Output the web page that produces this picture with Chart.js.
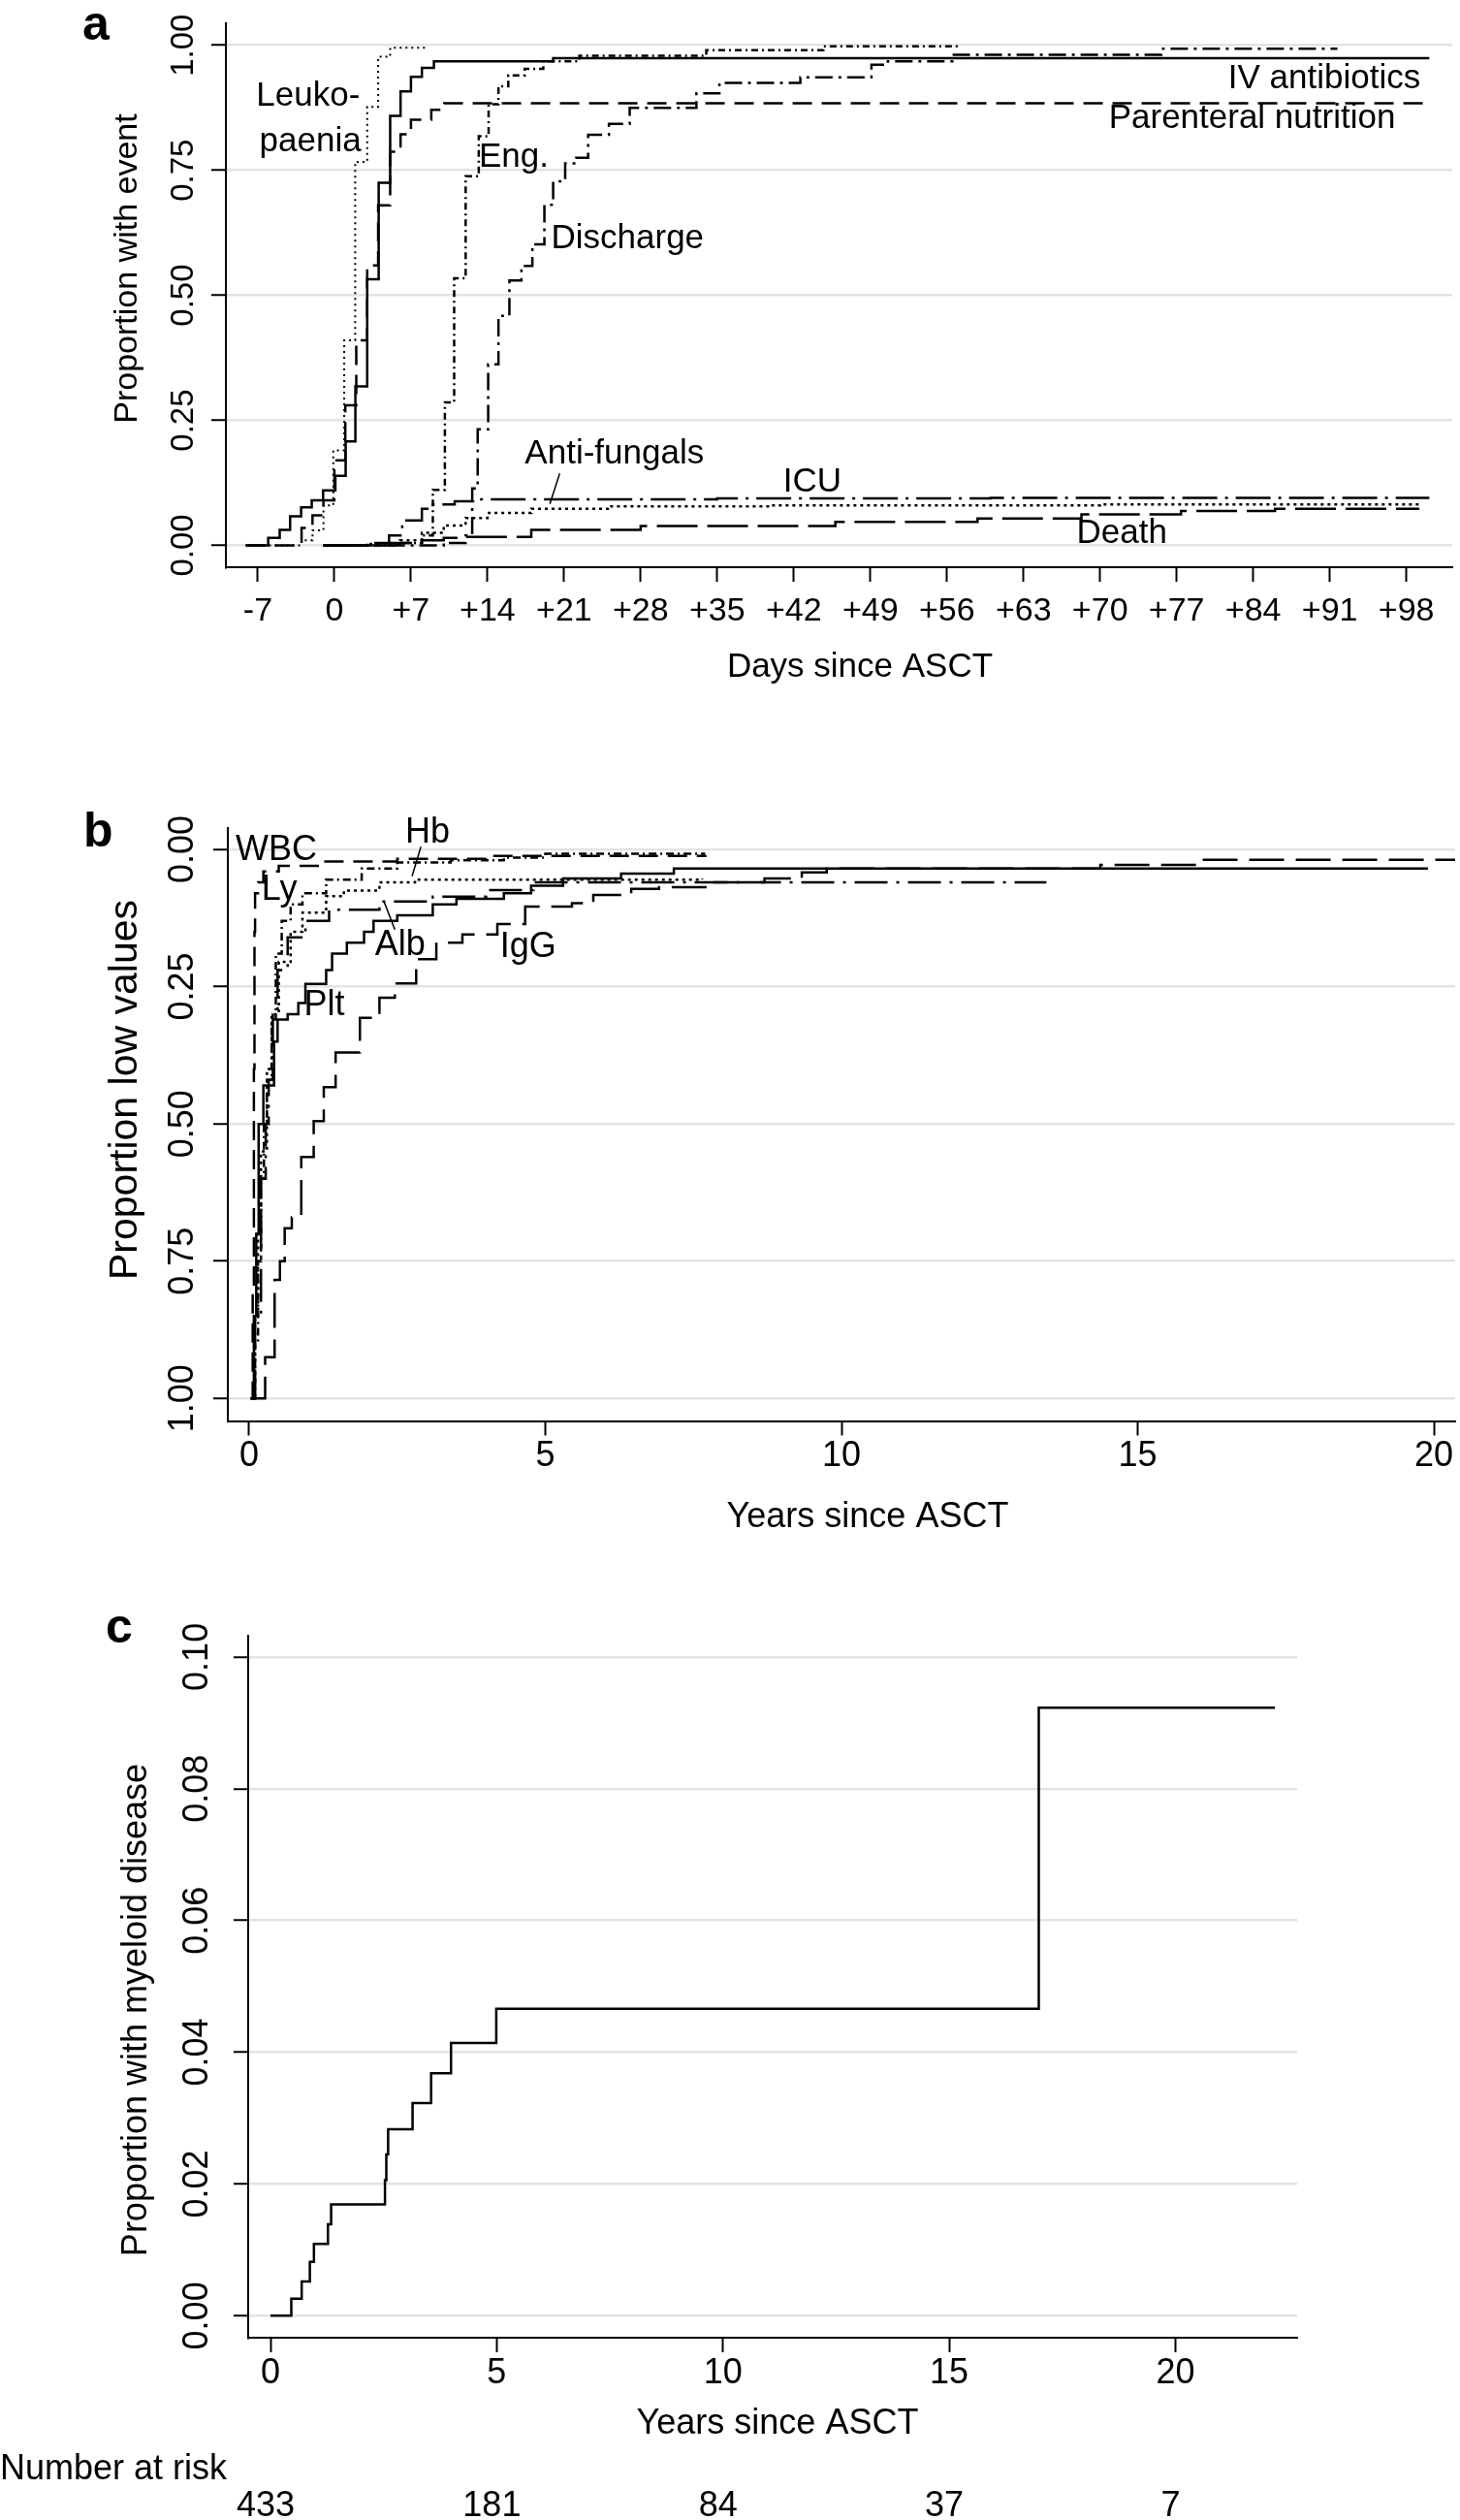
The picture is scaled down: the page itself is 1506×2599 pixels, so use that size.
<!DOCTYPE html>
<html>
<head>
<meta charset="utf-8">
<title>ASCT event curves</title>
<script src="https://cdn.jsdelivr.net/npm/chart.js@4.4.1/dist/chart.umd.min.js"></script>
<style>
  body { margin: 0; background: #fff; width: 1506px; height: 2599px; position: relative; overflow: hidden; }
  canvas { position: absolute; left: 0; }
  #chartA { top: 0; }
  #chartB { top: 800px; }
  #chartC { top: 1640px; }
</style>
</head>
<body>
<canvas id="chartA" width="1506" height="710" style="width:1506px;height:710px"></canvas>
<canvas id="chartB" width="1506" height="787" style="width:1506px;height:787px"></canvas>
<canvas id="chartC" width="1506" height="959" style="width:1506px;height:959px"></canvas>
<script>
const FONT = "'Liberation Sans', Arial, Helvetica, sans-serif";

// ---- panel a: days since ASCT ----
const dayTicks = [-7, 0, 7, 14, 21, 28, 35, 42, 49, 56, 63, 70, 77, 84, 91, 98];
const eventTicks = [0, 0.25, 0.5, 0.75, 1];

const ivDays = [-8.1, -6.05, -5, -4.05, -3.04, -2.07, -1.03, 0.09, 1.03, 1.92, 3.0, 4.05, 5.1, 6.05, 7.0, 8.0, 9.1, 20, 100.1];
const ivVals = [0, 0.015, 0.031, 0.058, 0.076, 0.09, 0.11, 0.139, 0.208, 0.318, 0.532, 0.725, 0.859, 0.908, 0.937, 0.955, 0.968, 0.974, 0.974];

const pnDays = [-8.1, -3, -2, -1, 0, 1, 2, 3, 4, 5.1, 6.05, 7.0, 8.86, 10.04, 100.1];
const pnVals = [0, 0.035, 0.06, 0.09, 0.17, 0.28, 0.41, 0.56, 0.68, 0.787, 0.822, 0.851, 0.871, 0.884, 0.886];

const leukoDays = [-8.1, -3, -2, -1, -0.1, 0.9, 1.9, 3.0, 4.0, 5.1, 8.6];
const leukoVals = [0, 0.01, 0.03, 0.08, 0.19, 0.41, 0.767, 0.877, 0.977, 0.995, 0.995];

const engDays = [-1, 6, 8, 9.0, 10.1, 10.95, 12.0, 13.2, 14.1, 15.0, 15.9, 17.4, 19.1, 22.4, 34, 44.7, 57.3];
const engVals = [0, 0.005, 0.02, 0.111, 0.286, 0.534, 0.738, 0.818, 0.882, 0.918, 0.94, 0.953, 0.968, 0.979, 0.99, 0.998, 0.998];

const dischDays = [-1, 10, 12, 12.6, 13.1, 14.06, 15.0, 16.0, 17.1, 18.1, 19.2, 20.0, 21.1, 22.1, 23.2, 25.1, 27.0, 33.1, 35.2, 42.6, 49.1, 50.6, 56.5, 75.6, 91.7];
const dischVals = [0, 0.005, 0.02, 0.114, 0.232, 0.362, 0.459, 0.53, 0.559, 0.602, 0.681, 0.728, 0.764, 0.775, 0.821, 0.843, 0.875, 0.904, 0.925, 0.936, 0.961, 0.968, 0.981, 0.993, 0.993];

const fungDays = [-1, 3, 6, 8, 10, 12, 14, 18, 25, 40, 70, 99.3];
const fungVals = [0, 0.003, 0.01, 0.025, 0.04, 0.055, 0.065, 0.073, 0.078, 0.08, 0.082, 0.082];

const icuDays = [-1, 3, 5, 6.2, 8, 9, 11, 13, 35, 60, 100.1];
const icuVals = [0, 0.005, 0.02, 0.05, 0.073, 0.082, 0.088, 0.092, 0.094, 0.095, 0.095];

const deathDays = [-1, 5, 8, 10, 12, 18, 28, 45.8, 58.8, 68.3, 77.4, 86, 99.2];
const deathVals = [0, 0.005, 0.01, 0.015, 0.017, 0.031, 0.039, 0.047, 0.054, 0.062, 0.069, 0.073, 0.073];

// ---- panel b: years since ASCT, proportion low values ----
const yearTicksB = [0, 5, 10, 15, 20];
const lowTicks = [0, 0.25, 0.5, 0.75, 1];

const wbcYears = [0.02, 0.06, 0.08, 0.09, 0.1, 0.15, 0.24, 0.5, 1.2, 2.5, 4, 7.7];
const wbcVals = [1, 0.8, 0.4, 0.15, 0.08, 0.06, 0.04, 0.03, 0.022, 0.017, 0.012, 0.01];

const lyYears = [0.03, 0.1, 0.15, 0.2, 0.25, 0.3, 0.38, 0.45, 0.55, 0.7, 0.9, 1.3, 1.9, 2.5, 3.4, 4.3, 5, 7.7];
const lyVals = [1, 0.9, 0.75, 0.6, 0.5, 0.42, 0.31, 0.19, 0.13, 0.1, 0.08, 0.055, 0.035, 0.024, 0.02, 0.015, 0.008, 0.008];

const hbYears = [0.03, 0.1, 0.15, 0.2, 0.3, 0.38, 0.5, 0.7, 0.9, 1.3, 1.6, 2.2, 2.8, 7.65];
const hbVals = [1, 0.85, 0.7, 0.55, 0.4, 0.3, 0.205, 0.15, 0.115, 0.085, 0.075, 0.06, 0.055, 0.053];

const albYears = [0.03, 0.1, 0.2, 0.28, 0.33, 0.4, 0.48, 0.65, 0.95, 1.35, 2.2, 3.1, 4.0, 4.8, 13.46];
const albVals = [1, 0.85, 0.6, 0.5, 0.42, 0.3, 0.22, 0.16, 0.13, 0.11, 0.095, 0.086, 0.074, 0.06, 0.06];

const pltYears = [0.03, 0.08, 0.12, 0.16, 0.24, 0.42, 0.48, 0.65, 0.83, 0.95, 1.3, 1.4, 1.65, 1.94, 2.1, 2.5, 3.1, 3.5, 4.3, 4.76, 5.3, 6.28, 7.17, 19.9];
const pltVals = [1, 0.85, 0.7, 0.5, 0.43, 0.35, 0.31, 0.3, 0.28, 0.245, 0.22, 0.19, 0.17, 0.15, 0.13, 0.12, 0.1, 0.09, 0.08, 0.066, 0.053, 0.044, 0.035, 0.035];

const iggYears = [0.05, 0.27, 0.43, 0.52, 0.6, 0.72, 0.88, 1.09, 1.26, 1.46, 1.87, 2.2, 2.46, 2.82, 3.16, 3.6, 4.19, 4.66, 5.45, 5.81, 6.45, 6.92, 7.76, 8.7, 9.33, 9.75, 14.37, 16.05, 20.4];
const iggVals = [1, 0.925, 0.784, 0.75, 0.69, 0.67, 0.56, 0.495, 0.433, 0.37, 0.307, 0.27, 0.244, 0.2, 0.17, 0.155, 0.136, 0.104, 0.098, 0.083, 0.072, 0.069, 0.06, 0.053, 0.042, 0.035, 0.028, 0.019, 0.019];

// ---- panel c: myeloid disease ----
const yearTicksC = [0, 5, 10, 15, 20];
const myeloidTicks = [0, 0.02, 0.04, 0.06, 0.08, 0.1];
const myeloidYears = [0, 0.46, 0.69, 0.87, 0.96, 1.27, 1.34, 2.53, 2.56, 2.6, 3.14, 3.55, 3.99, 4.99, 16.98, 22.2];
const myeloidVals = [0, 0.0026, 0.0052, 0.0082, 0.0109, 0.0139, 0.0169, 0.0206, 0.0245, 0.0283, 0.0323, 0.0368, 0.0414, 0.0466, 0.0923, 0.0923];
const riskYears = [0, 5, 10, 15, 20];
const riskCounts = [433, 181, 84, 37, 7];

// curve labels (data coordinates)
const labelsA = [
  { text: 'Leuko-', x: -2.4, y: 0.897 },
  { text: 'paenia', x: -2.2, y: 0.806 },
  { text: 'Eng.', x: 16.4, y: 0.775 },
  { text: 'Discharge', x: 26.8, y: 0.613 },
  { text: 'Anti-fungals', x: 25.6, y: 0.183 },
  { text: 'ICU', x: 43.7, y: 0.126 },
  { text: 'IV antibiotics', x: 90.5, y: 0.933 },
  { text: 'Parenteral nutrition', x: 83.9, y: 0.853 },
  { text: 'Death', x: 72.0, y: 0.023 }
];
const leadersA = [[20.6, 0.144, 19.7, 0.083]];

const labelsB = [
  { text: 'WBC', x: 0.46, y: 0.0014 },
  { text: 'Hb', x: 3.01, y: -0.03 },
  { text: 'Ly', x: 0.51, y: 0.075 },
  { text: 'Alb', x: 2.55, y: 0.175 },
  { text: 'Plt', x: 1.27, y: 0.285 },
  { text: 'IgG', x: 4.71, y: 0.178 }
];
const leadersB = [[2.9, -0.005, 2.75, 0.049], [2.46, 0.146, 2.28, 0.096]];

function pts(xs, ys) {
  return xs.map((x, i) => ({ x: x, y: ys[i] }));
}

function stepLine(label, xs, ys, dash, width) {
  return {
    label: label,
    data: pts(xs, ys),
    stepped: true,
    borderColor: '#000',
    borderWidth: width || 2.5,
    borderDash: dash || [],
    pointRadius: 0,
    fill: false
  };
}

function drawText(ctx, str, x, y, size, opts) {
  opts = opts || {};
  ctx.font = (opts.bold ? 'bold ' : '') + size + 'px ' + FONT;
  ctx.fillStyle = '#000';
  ctx.textAlign = opts.align || 'center';
  ctx.textBaseline = opts.baseline || 'middle';
  if (opts.rot) {
    ctx.save();
    ctx.translate(x, y);
    ctx.rotate(-Math.PI / 2);
    ctx.fillText(str, 0, 0);
    ctx.restore();
  } else {
    ctx.fillText(str, x, y);
  }
}

// draws rotated y tick labels, titles, panel letter and curve labels
function overlay(cfg) {
  return {
    id: 'overlay',
    afterDraw(chart) {
      const ctx = chart.ctx;
      const sx = chart.scales.x, sy = chart.scales.y;
      ctx.save();
      cfg.yTicks.forEach(v => {
        drawText(ctx, v.toFixed(2), cfg.yLabelX, sy.getPixelForValue(v), cfg.tickSize, { rot: true });
      });
      drawText(ctx, cfg.letter, cfg.letterPos[0], cfg.letterPos[1], 50, { bold: true, align: 'left', baseline: 'alphabetic' });
      drawText(ctx, cfg.yTitle, cfg.yTitlePos[0], cfg.yTitlePos[1], cfg.yTitleSize, { rot: true });
      drawText(ctx, cfg.xTitle, cfg.xTitlePos[0], cfg.xTitlePos[1], cfg.xTitleSize);
      (cfg.labels || []).forEach(l => {
        drawText(ctx, l.text, sx.getPixelForValue(l.x), sy.getPixelForValue(l.y), cfg.labelSize);
      });
      ctx.strokeStyle = '#000';
      ctx.lineWidth = 1.5;
      (cfg.leaders || []).forEach(l => {
        ctx.beginPath();
        ctx.moveTo(sx.getPixelForValue(l[0]), sy.getPixelForValue(l[1]));
        ctx.lineTo(sx.getPixelForValue(l[2]), sy.getPixelForValue(l[3]));
        ctx.stroke();
      });
      if (cfg.extra) cfg.extra(chart, ctx);
      ctx.restore();
    }
  };
}

function xAxis(min, max, ticks, fmt, size, pad, height) {
  return {
    type: 'linear', min: min, max: max, bounds: 'data',
    afterBuildTicks: s => { s.ticks = ticks.map(v => ({ value: v })); },
    afterFit: s => { s.height = height; },
    ticks: { callback: fmt, font: { family: FONT, size: size }, color: '#000', padding: pad, maxRotation: 0, autoSkip: false },
    grid: { drawOnChartArea: false, drawTicks: true, tickLength: 15, tickColor: '#000', tickWidth: 2 },
    border: { display: true, color: '#000', width: 2 }
  };
}

function yAxis(min, max, ticks, width, reverse) {
  return {
    type: 'linear', min: min, max: max, bounds: 'data', reverse: !!reverse,
    afterBuildTicks: s => { s.ticks = ticks.map(v => ({ value: v })); },
    afterFit: s => { s.width = width; },
    ticks: { display: false },
    grid: { color: '#e3e3e3', lineWidth: 2.5, drawTicks: true, tickLength: 15, tickColor: '#000', tickWidth: 2 },
    border: { display: true, color: '#000', width: 2 }
  };
}

function baseOptions(padding, scales) {
  return {
    responsive: false,
    animation: false,
    devicePixelRatio: 1,
    events: [],
    layout: { padding: padding },
    plugins: { legend: { display: false }, tooltip: { enabled: false } },
    scales: scales
  };
}

// panel a
new Chart(document.getElementById('chartA'), {
  type: 'line',
  data: {
    datasets: [
      stepLine('IV antibiotics', ivDays, ivVals, [], 2.5),
      stepLine('Parenteral nutrition', pnDays, pnVals, [20, 10], 2.5),
      stepLine('Leukopaenia', leukoDays, leukoVals, [2, 4], 2),
      stepLine('Engraftment', engDays, engVals, [7, 4, 2, 4], 2.5),
      stepLine('Discharge', dischDays, dischVals, [18, 6, 3, 6], 2.5),
      stepLine('Anti-fungals', fungDays, fungVals, [3, 4], 2.5),
      stepLine('ICU', icuDays, icuVals, [36, 8, 3, 8], 2.5),
      stepLine('Death', deathDays, deathVals, [42, 10], 2.5)
    ]
  },
  options: baseOptions({ left: 0, right: 8, top: 24, bottom: 0 }, {
    x: xAxis(-9.92, 102.2, dayTicks, v => (v > 0 ? '+' + v : String(v)), 34, 10, 125),
    y: yAxis(-0.0436, 1.044, eventTicks, 233, false)
  }),
  plugins: [overlay({
    yTicks: eventTicks, yLabelX: 190, tickSize: 33,
    letter: 'a', letterPos: [85, 41],
    yTitle: 'Proportion with event', yTitlePos: [132, 277], yTitleSize: 34,
    xTitle: 'Days since ASCT', xTitlePos: [887, 688], xTitleSize: 35,
    labels: labelsA, labelSize: 35, leaders: leadersA
  })]
});

// panel b
new Chart(document.getElementById('chartB'), {
  type: 'line',
  data: {
    datasets: [
      stepLine('WBC', wbcYears, wbcVals, [20, 10], 2.5),
      stepLine('Ly', lyYears, lyVals, [8, 4, 2, 4], 2.5),
      stepLine('Hb', hbYears, hbVals, [3, 4], 2.5),
      stepLine('Alb', albYears, albVals, [34, 9, 3, 9], 2.5),
      stepLine('Plt', pltYears, pltVals, [], 2.5),
      stepLine('IgG', iggYears, iggVals, [36, 12], 2.5)
    ]
  },
  options: baseOptions({ left: 0, right: 5, top: 53.6, bottom: 0 }, {
    x: xAxis(-0.36, 20.36, yearTicksB, v => String(v), 36, 0, 121.5),
    y: yAxis(-0.0396, 1.041, lowTicks, 235, true)
  }),
  plugins: [overlay({
    yTicks: lowTicks, yLabelX: 189, tickSize: 36,
    letter: 'b', letterPos: [86, 73],
    yTitle: 'Proportion low values', yTitlePos: [130, 324], yTitleSize: 41,
    xTitle: 'Years since ASCT', xTitlePos: [895, 765], xTitleSize: 36,
    labels: labelsB, labelSize: 36, leaders: leadersB
  })]
});

// panel c
new Chart(document.getElementById('chartC'), {
  type: 'line',
  data: {
    datasets: [stepLine('Myeloid disease', myeloidYears, myeloidVals, [], 2.5)]
  },
  options: baseOptions({ left: 0, right: 168, top: 47, bottom: 0 }, {
    x: xAxis(-0.493, 22.69, yearTicksC, v => String(v), 36, 0, 188),
    y: yAxis(-0.00333, 0.10322, myeloidTicks, 256, false)
  }),
  plugins: [overlay({
    yTicks: myeloidTicks, yLabelX: 204, tickSize: 36,
    letter: 'c', letterPos: [109, 54],
    yTitle: 'Proportion with myeloid disease', yTitlePos: [141, 433], yTitleSize: 36,
    xTitle: 'Years since ASCT', xTitlePos: [802, 860], xTitleSize: 36,
    labels: [], labelSize: 36,
    extra: (chart, ctx) => {
      const sx = chart.scales.x;
      drawText(ctx, 'Number at risk', 0, 907, 36, { align: 'left' });
      riskYears.forEach((t, i) => {
        drawText(ctx, String(riskCounts[i]), sx.getPixelForValue(t) - 5, 945, 36);
      });
    }
  })]
});
</script>
</body>
</html>
